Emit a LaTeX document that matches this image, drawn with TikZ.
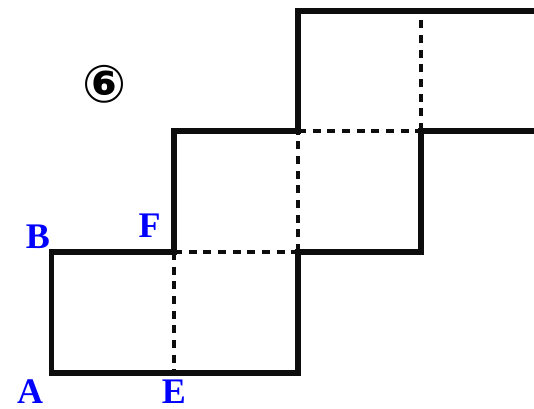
\documentclass[tikz,border=0pt]{standalone}
\usepackage{fontspec}
\setmainfont{Liberation Serif}
\newfontfamily\circfont{DejaVu Sans}
\begin{document}
\begin{tikzpicture}[x=0.75pt,y=-0.75pt,
  edge/.style={line width=4pt,color=black!95},
  hidden/.style={line width=2.3pt,color=black!95,dash pattern=on 6pt off 5pt},
  lbl/.style={anchor=base,inner sep=0pt,text=blue,font=\fontsize{27}{27}\selectfont\bfseries}]
\useasboundingbox (0,0) rectangle (534,408);
% grid points
\coordinate (a1) at (51.5,373); \coordinate (a2) at (174,373); \coordinate (a3) at (298,373);
\coordinate (b1) at (51.5,252); \coordinate (b2) at (174,252); \coordinate (b3) at (298,252); \coordinate (b4) at (421,252);
\coordinate (c2) at (174,131); \coordinate (c3) at (298,131); \coordinate (c4) at (421,131); \coordinate (c5) at (534,131);
\coordinate (d3) at (298,11); \coordinate (d4) at (421,11); \coordinate (d5) at (534,11);
% solid outline
\draw[edge] (c5) -- (c4) -- (b4) -- (b3) -- (a3) -- (a1) -- (b1) -- (b2) -- (c2) -- (c3) -- (d3) -- (d5);
% dashed folds
\draw[hidden] (b2) -- (a2);
\draw[hidden] (b2) -- (b3);
\draw[hidden] (b3) -- (c3);
\draw[hidden] (c3) -- (c4);
\draw[hidden] (c4) -- (d4);
% labels
\node[lbl] (A) at (30,403) {A};
\node[lbl] (E) at (174,403) {E};
\node[lbl] (B) at (38,248) {B};
\node[lbl] (F) at (149.5,237) {F};
\node[inner sep=0pt,font=\circfont\fontsize{39}{39}\selectfont\bfseries] (num) at (104.5,84) {⑥};
\end{tikzpicture}
\end{document}
